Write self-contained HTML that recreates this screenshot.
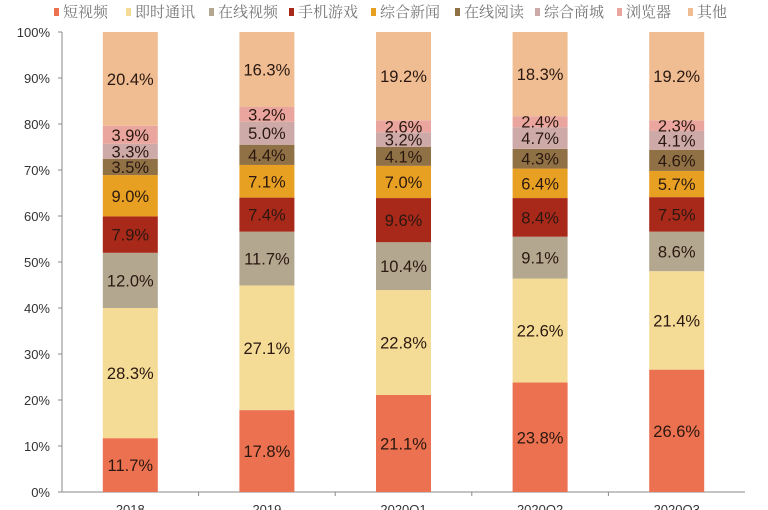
<!DOCTYPE html>
<html><head><meta charset="utf-8"><style>
body{margin:0;background:#fff;}
svg{display:block;font-family:"Liberation Sans","Noto Sans CJK SC",sans-serif;}
</style></head><body>
<svg id="chart" width="768" height="510"></svg>
<script>
const categories=["2018","2019","2020Q1","2020Q2","2020Q3"];
const seriesNames=["短视频","即时通讯","在线视频","手机游戏","综合新闻","在线阅读","综合商城","浏览器","其他"];
const shortVideo=[11.7,17.8,21.1,23.8,26.6];
const instantMsg=[28.3,27.1,22.8,22.6,21.4];
const onlineVideo=[12.0,11.7,10.4,9.1,8.6];
const mobileGames=[7.9,7.4,9.6,8.4,7.5];
const news=[9.0,7.1,7.0,6.4,5.7];
const reading=[3.5,4.4,4.1,4.3,4.6];
const ecommerce=[3.3,5.0,3.2,4.7,4.1];
const browser=[3.9,3.2,2.6,2.4,2.3];
const others=[20.4,16.3,19.2,18.3,19.2];
const yTicks=[0,10,20,30,40,50,60,70,80,90,100];

const series=[shortVideo,instantMsg,onlineVideo,mobileGames,news,reading,ecommerce,browser,others];
const colors=["#ec7150","#f5dc96","#b3a78f","#a8281a","#e8a023","#907045","#cdaaa7","#eaa69e","#f0bd93"];
const svg=document.getElementById('chart');
const NS="http://www.w3.org/2000/svg";
const x0=62,x1=745,yB=492,yT=32;
const y=v=>yB-(v/100)*(yB-yT);
const step=(x1-x0)/categories.length;
const xc=i=>x0+step*(i+0.5);
const bw=55;
function mk(t,a,p){const e=document.createElementNS(NS,t);for(const k in a)e.setAttribute(k,a[k]);(p||svg).appendChild(e);return e;}

// legend
const legendX=[54,126,209,289,371,455,535,617,688];
seriesNames.forEach((n,i)=>{
  const lx=legendX[i];
  const g=mk('g',{});
  
  
  mk('rect',{x:lx,y:8,width:5,height:8,fill:colors[i]},g);
  const t=mk('text',{x:lx+9,y:17,'font-size':15,fill:'#777','font-family':'"Liberation Serif","Noto Serif CJK SC",serif'},g);
  t.textContent=n;
});

// axis
const ax=mk('g',{});


mk('line',{x1:x0,y1:yT,x2:x0,y2:yB,stroke:'#888','stroke-width':1},ax);
mk('line',{x1:x0,y1:yB,x2:x1,y2:yB,stroke:'#888','stroke-width':1},ax);
yTicks.forEach(v=>{
  mk('line',{x1:x0-4,y1:y(v),x2:x0,y2:y(v),stroke:'#888'},ax);
  const t=mk('text',{x:x0-12,y:y(v)+5,'text-anchor':'end','font-size':13,fill:'#333'},ax);
  
  
  t.textContent=v+'%';
});
for(let i=1;i<categories.length;i++){mk('line',{x1:x0+step*i,y1:yB,x2:x0+step*i,y2:yB+4,stroke:'#888'},ax);}

categories.forEach((c,i)=>{
  let cum=0;
  series.forEach((s,k)=>{
    const v=s[i];
    const r=mk('rect',{x:xc(i)-bw/2,y:y(cum+v),width:bw,height:y(cum)-y(cum+v),fill:colors[k]});
    
    
    const t=mk('text',{x:xc(i),y:(y(cum)+y(cum+v))/2+6,'text-anchor':'middle','font-size':16.5,fill:'#2a1810'});
    
    
    t.textContent=v.toFixed(1)+'%';
    cum+=v;
  });
  const t=mk('text',{x:xc(i),y:514,'text-anchor':'middle','font-size':13,fill:'#333'});
  
  
  t.textContent=c;
});
</script>
</body></html>
